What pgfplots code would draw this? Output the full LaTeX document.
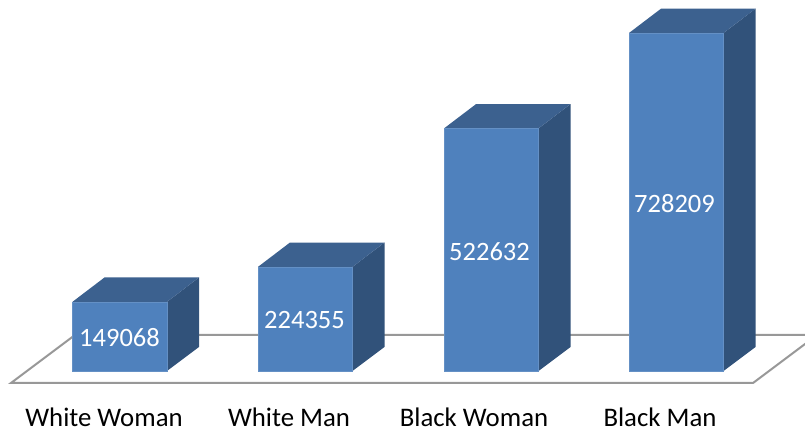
\documentclass[border=0pt]{standalone}
\usepackage{fontspec}
\setmainfont{Carlito}
\usepackage{pgfplots}
\pgfplotsset{compat=1.18}
\definecolor{front}{HTML}{4F81BD}
\definecolor{topface}{HTML}{3C618F}
\definecolor{sideface}{HTML}{31527A}
\definecolor{floorline}{HTML}{989898}
% one 3D column: left edge of front face (px), value, value + depth offset (51708)
\newcommand{\cube}[3]{%
  \pgfmathsetmacro{\xa}{#1}
  \pgfmathsetmacro{\xb}{#1+94.5}
  \pgfmathsetmacro{\xc}{#1+126.5}
  \pgfmathsetmacro{\xd}{#1+32}
  \addplot[fill=sideface,draw=none] coordinates {(\xb,0) (\xc,51708) (\xc,#3) (\xb,#2)} --cycle;
  \addplot[fill=topface,draw=none] coordinates {(\xa,#2) (\xb,#2) (\xc,#3) (\xd,#3)} --cycle;
  \addplot[fill=front,draw=front!88!white,line width=0.4pt] coordinates {(\xa,0) (\xb,0) (\xb,#2) (\xa,#2)} --cycle;
}
\begin{document}
\begin{tikzpicture}
\begin{axis}[
scale only axis,
width=805pt,
height=432pt,
xmin=0,xmax=805,
ymin=-131425,ymax=799320,
axis line style={draw=none},
tick style={draw=none},
ytick=\empty,
xtick={104,289,474,660},
xticklabels={White Woman,White Man,Black Woman,Black Man},
xticklabel style={anchor=base,yshift=5.5pt,font=\fontsize{26.8}{30}\selectfont,text=black},
]
% floor
\addplot[draw=floorline,line width=2pt] coordinates {(11,-25854) (753,-25854) (817,77562) (75,77562)} --cycle;
\cube{72.5}{149068}{201500}
\cube{258}{224355}{276800}
\cube{444}{522632}{575000}
\cube{629}{728209}{780600}
\node[text=white,font=\fontsize{26.5}{30}\selectfont] at (axis cs:119.5,72000) {149068};
\node[text=white,font=\fontsize{26.5}{30}\selectfont] at (axis cs:304.5,110000) {224355};
\node[text=white,font=\fontsize{26.5}{30}\selectfont] at (axis cs:489.5,258000) {522632};
\node[text=white,font=\fontsize{26.5}{30}\selectfont] at (axis cs:674.5,360000) {728209};
\end{axis}
\end{tikzpicture}
\end{document}
